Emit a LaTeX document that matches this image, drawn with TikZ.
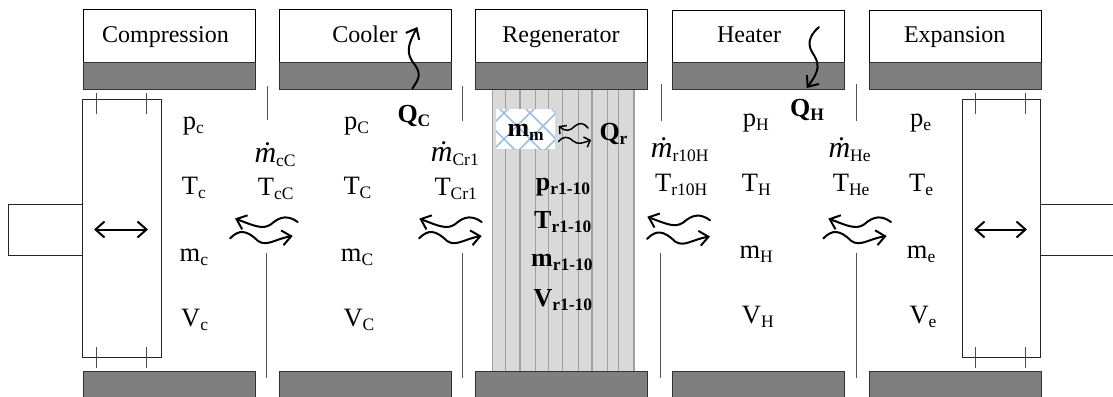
\documentclass[tikz,border=0pt]{standalone}
\usepackage{fontspec}
\setmainfont{Liberation Serif}
\usetikzlibrary{arrows.meta}
\definecolor{wallgray}{HTML}{7F7F7F}
\definecolor{regengray}{HTML}{D9D9D9}
\definecolor{slatgray}{HTML}{A0A0A0}
\definecolor{meshblue}{HTML}{9CC0E6}
\definecolor{divgray}{HTML}{555555}
\newcommand{\subt}[1]{{\fontsize{17.5}{17.5}\selectfont\raisebox{-4pt}{#1}}}
\newcommand{\vlab}[5]{\node[vartxt] (#1) at (#2,#3) {#4\subt{#5}};}
\newcommand{\blab}[5]{\node[vartxt,font=\fontsize{26}{26}\selectfont\bfseries] (#1) at (#2,#3) {#4\subt{#5}};}
\newcommand{\mdotlab}[4]{\node[vartxt] (#1) at (#2,#3) {{\fontsize{30}{30}\selectfont\textit{ṁ}}\subt{#4}};}
\tikzset{
  titlebox/.style={draw=black,line width=1pt,fill=white,inner sep=0pt,anchor=north west,minimum width=172pt,minimum height=52.5pt},
  wall/.style={draw=black!80,line width=0.8pt,fill=wallgray,inner sep=0pt,anchor=north west,minimum width=172pt},
  titletxt/.style={inner sep=0pt,anchor=base,font=\fontsize{24}{24}\selectfont},
  vartxt/.style={inner sep=0pt,anchor=base west,font=\fontsize{26.5}{26.5}\selectfont},
  divider/.style={draw=divgray,line width=0.9pt},
  slat/.style={draw=slatgray,line width=1.1pt},
  thin rect/.style={draw=black!85,line width=0.8pt,fill=white},
  tick/.style={draw=black!70,line width=0.8pt},
  dblarrow/.style={draw=black,line width=2pt,{Straight Barb[length=9pt,width=16pt,line width=2pt]}-{Straight Barb[length=9pt,width=16pt,line width=2pt]}},
  wavy/.style={draw=black,line width=2pt,line cap=round,-{Straight Barb[length=9pt,width=15pt,line width=2pt]}},
  wavys/.style={draw=black,line width=1.5pt,line cap=round,-{Straight Barb[length=5pt,width=11pt,line width=1.5pt]}}
}
\newcommand{\wavetop}[3]{% tip x, tip y, end x
  \draw[wavy] (#3,#2+3.5) .. controls (#3-9,#2-3) and (#3-17,#2-3) .. (#3-27,#2+6)
     .. controls (#3-35,#2+11) and (#3-42,#2+8) .. (#1,#2);}
\newcommand{\wavebot}[3]{% start x, tip y, tip x
  \draw[wavy] (#1,#2+2.5) .. controls (#1+9,#2-7) and (#1+17,#2-6) .. (#1+28,#2+5)
     .. controls (#1+37,#2+11) and (#1+45,#2+3) .. (#3,#2);}
\begin{document}
\begin{tikzpicture}[x=1pt,y=-1pt]
\useasboundingbox (0,0) rectangle (1113,396);
% regenerator matrix
\fill[regengray] (492.3,89) rectangle (634,371);
\foreach \xx in {492.3,505.7,520,535.3,548.3,562.3,578.3,592,607.3,618.7,634}
  \draw[slat] (\xx,89) -- (\xx,371);
% title boxes and walls
\foreach \nm/\xx/\yy in {comp/82.5/9.5,cool/278.5/9.5,regen/475.3/9.5,heat/671.7/10.5,expa/869/10.5}{
  \node[titlebox,minimum height={62-\yy}] (\nm box) at (\xx,\yy) {};
  \node[wall,minimum height=27pt] (\nm top) at (\xx,62) {};
  \node[wall,minimum height=30pt] (\nm bot) at (\xx,371) {};
}
\node[titletxt] (comp title) at (165.5,42.5) {Compression};
\node[titletxt] (cool title) at (365,42.5) {Cooler};
\node[titletxt] (regen title) at (561,42.5) {Regenerator};
\node[titletxt] (heat title) at (749,43) {Heater};
\node[titletxt] (expa title) at (954.7,43) {Expansion};
% dividers
\foreach \xx/\ya/\xb/\yb in {267/86/267/120,266/253/266/378,462.7/86/462.7/121,462.7/253/462.7/378,661.3/84/661.3/121,660.7/253/660.7/378,856/84/856/121,856/253/856/378}
  \draw[divider] (\xx,\ya) -- (\xb,\yb);
% left cylinder
\draw[thin rect] (8,204) rectangle (82.5,255);
\draw[thin rect] (82.5,99) rectangle (161.5,357);
\foreach \xx in {96,146}{
  \draw[tick] (\xx,93) -- (\xx,114);
  \draw[tick] (\xx,347) -- (\xx,368);
}
\coordinate (lpa) at (94,229.5);
\coordinate (lpb) at (148,229.5);
\draw[dblarrow] (lpa) -- (lpb);
% right cylinder
\draw[thin rect] (1040.7,204) rectangle (1125,255);
\draw[thin rect] (962.3,99) rectangle (1040.7,357);
\foreach \xx in {975.3,1025.7}{
  \draw[tick] (\xx,93) -- (\xx,114);
  \draw[tick] (\xx,347) -- (\xx,368);
}
\coordinate (rpa) at (974,229.5);
\coordinate (rpb) at (1027,229.5);
\draw[dblarrow] (rpa) -- (rpb);
% mesh
\begin{scope}
\clip (496,109) rectangle (555,149);
\fill[white] (496,109) rectangle (555,149);
\foreach \cc in {452,478,504,530,556,582,608}{
  \draw[meshblue,line width=1.5pt] (\cc-60,113-60) -- (\cc+60,113+60);
  \draw[meshblue,line width=1.5pt] (\cc-60,113+60) -- (\cc+60,113-60);
}
\end{scope}
% gas exchange arrows
\wavetop{235}{218.5}{297.7}
\wavebot{230}{236}{292.7}
\wavetop{419.3}{218.5}{481.7}
\wavebot{419}{236}{481.7}
\wavetop{647.3}{216.7}{710}
\wavebot{647}{236.5}{710}
\wavetop{828.3}{218.5}{891}
\wavebot{823.3}{236}{886.7}
% regenerator-matrix small arrows
\draw[wavys] (588,128) .. controls (584,123) and (580,122) .. (575,126)
   .. controls (570,131) and (566,132) .. (558.7,126);
\draw[wavys] (558.7,141.5) .. controls (563,136) and (568,136) .. (573,141)
   .. controls (578,145) and (583,143) .. (591,140);
% heat arrows
\coordinate (qca) at (412.3,88.5);
\coordinate (qcb) at (417.3,27);
\draw[wavy] (qca) .. controls (418,80) and (422,75) .. (415,65)
   .. controls (405,53) and (408,45) .. (qcb);
\coordinate (qha) at (819,27);
\coordinate (qhb) at (806.7,88);
\draw[wavy] (qha) .. controls (812,33) and (806,42) .. (812,52)
   .. controls (820,64) and (820,70) .. (qhb);
% labels
\vlab{pc}{182.7}{129}{p}{c}
\vlab{Tc}{181.7}{194}{T}{c}
\vlab{mc}{179.5}{261}{m}{c}
\vlab{Vc}{181}{326}{V}{c}
\vlab{pC}{344}{129}{p}{C}
\vlab{TC}{343.3}{194}{T}{C}
\vlab{mC}{340.7}{261}{m}{C}
\vlab{VC}{343.3}{326}{V}{C}
\vlab{pH}{742.7}{126}{p}{H}
\vlab{TH}{741.7}{191.7}{T}{H}
\vlab{mH}{739.3}{258}{m}{H}
\vlab{VH}{741.7}{323}{V}{H}
\vlab{pe}{910}{126}{p}{e}
\vlab{Te}{909}{191.7}{T}{e}
\vlab{me}{906.7}{258}{m}{e}
\vlab{Ve}{909.3}{323}{V}{e}
\mdotlab{mcC}{254.3}{162.3}{cC}
\vlab{TcC}{257.7}{195.7}{T}{cC}
\mdotlab{mCr}{430.7}{161.7}{Cr1}
\vlab{TCr}{434.3}{195.7}{T}{Cr1}
\mdotlab{mrH}{650.7}{157.3}{r10H}
\vlab{TrH}{655}{191.7}{T}{r10H}
\mdotlab{mHe}{828.3}{157.3}{He}
\vlab{THe}{832.7}{191.7}{T}{He}
\blab{QC}{397.3}{122.7}{Q}{C}
\blab{QH}{790}{116.7}{Q}{H}
\blab{Qr}{599.3}{140}{Q}{r}
\blab{mm}{507.3}{136.7}{m}{m}
\blab{pr}{535.7}{190.7}{p}{r1-10}
\blab{Tr}{534}{228}{T}{r1-10}
\blab{mr}{531}{266.7}{m}{r1-10}
\blab{Vr}{533.3}{306}{V}{r1-10}
\end{tikzpicture}
\end{document}
